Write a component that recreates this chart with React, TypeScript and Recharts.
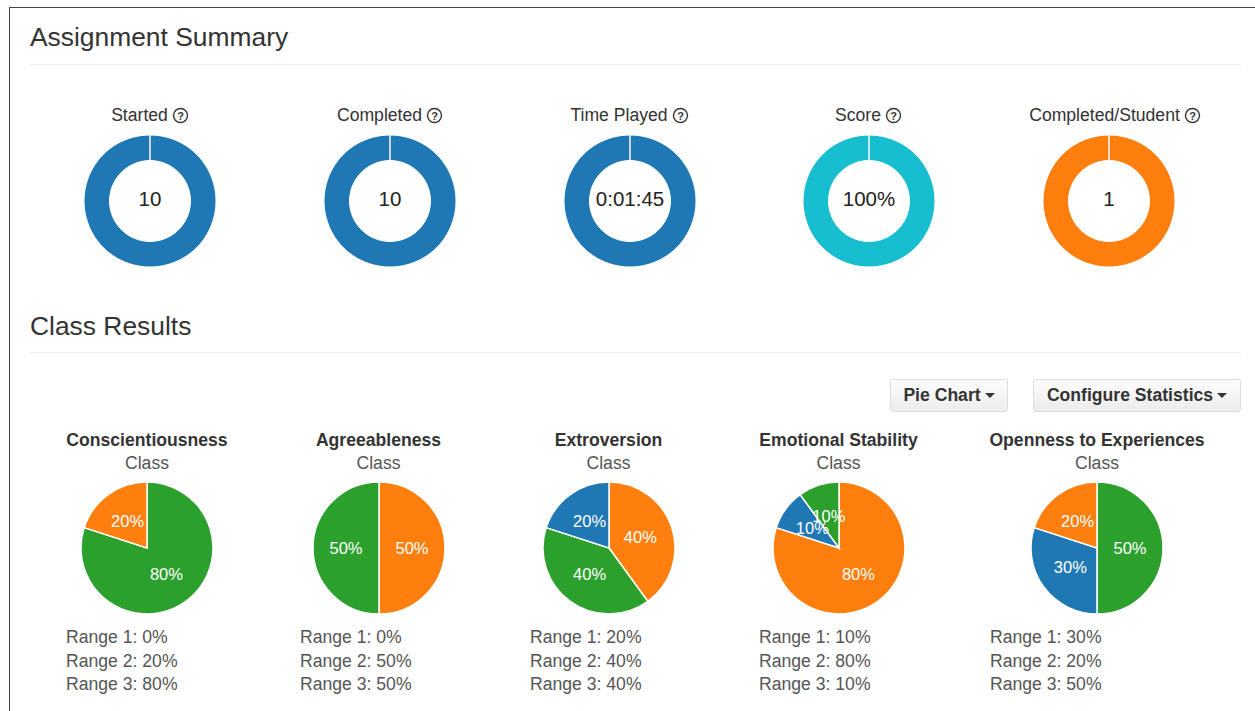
import { Label, Pie, PieChart } from "recharts";

const summaryTitles = ["Started", "Completed", "Time Played", "Score", "Completed/Student"];
const summaryValues = [10, 10, 105, 100, 1];
const summaryLabels = ["10", "10", "0:01:45", "100%", "1"];
const summaryColors = ["#1f77b4", "#1f77b4", "#1f77b4", "#17becf", "#ff7f0e"];
const summaryCenters = [150, 390, 629.5, 869, 1108.5];
const summaryTitleCenters = [150, 390, 629.5, 868.5, 1115];

const traits = [
  "Conscientiousness",
  "Agreeableness",
  "Extroversion",
  "Emotional Stability",
  "Openness to Experiences",
];
const range1 = [0, 0, 20, 10, 30];
const range2 = [20, 50, 40, 80, 20];
const range3 = [80, 50, 40, 10, 50];
const rangeColors = ["#1f77b4", "#ff7f0e", "#2ca02c"];
// largest slice goes first, ties keep the order seen in the picture
const sliceOrder = [
  [2, 1, 0],
  [1, 2, 0],
  [1, 2, 0],
  [1, 0, 2],
  [2, 0, 1],
];
const traitCenters = [147.5, 379, 609, 839, 1097.5];
const traitTextLeft = [66, 300, 530, 759, 990];

const FONT = "'Liberation Sans', Arial, sans-serif";
const SIZE = 140;
const TEXT_SIZE = 17.6;

const abs = (left: number, top: number, extra: object = {}) => ({
  position: "absolute" as const,
  left,
  top,
  whiteSpace: "nowrap" as const,
  ...extra,
});

const HelpIcon = () => (
  <svg width={17} height={17} style={{ marginLeft: 4, verticalAlign: -2.5 }}>
    <circle cx={8.5} cy={8.5} r={7} fill="none" stroke="#333" strokeWidth={1.4} />
    <text x={8.5} y={12.5} textAnchor="middle" fontSize={11} fontWeight="bold" fill="#333" fontFamily={FONT}>
      ?
    </text>
  </svg>
);

const Donut = ({ i }: { i: number }) => (
  <PieChart
    width={SIZE}
    height={SIZE}
    margin={{ top: 0, right: 0, bottom: 0, left: 0 }}
    style={abs(summaryCenters[i] - SIZE / 2, 200.5 - SIZE / 2)}
  >
    <Pie
      dataKey="value"
      data={[{ name: summaryTitles[i], value: summaryValues[i] }]}
      isAnimationActive={false}
      cx="50%"
      cy="50%"
      innerRadius={40.5}
      outerRadius={66}
      startAngle={90}
      endAngle={-270}
      fill={summaryColors[i]}
      stroke="#fff"
      strokeWidth={1}
    >
      <Label
        value={summaryLabels[i]}
        position="center"
        fill="#222"
        fontSize={20.5}
        fontFamily={FONT}
        dy={-2.5}
      />
    </Pie>
  </PieChart>
);

const sliceLabel = ({ cx, cy, midAngle, value }: any) => {
  const rad = (midAngle * Math.PI) / 180;
  return (
    <text
      x={cx + 33 * Math.cos(rad)}
      y={cy - 33 * Math.sin(rad) - 0.5}
      fill="#fff"
      fontSize={16.5}
      fontFamily={FONT}
      textAnchor="middle"
      dominantBaseline="central"
    >
      {value}%
    </text>
  );
};

const TraitPie = ({ i }: { i: number }) => {
  const values = [range1[i], range2[i], range3[i]];
  const data = sliceOrder[i]
    .filter((r) => values[r] > 0)
    .map((r) => ({ name: `Range ${r + 1}`, value: values[r], fill: rangeColors[r] }));
  return (
    <PieChart
      width={SIZE}
      height={SIZE}
      margin={{ top: 0, right: 0, bottom: 0, left: 0 }}
      style={abs(traitCenters[i] - SIZE / 2 - 0.25, 547.5 - SIZE / 2)}
    >
      <Pie
        dataKey="value"
        data={data}
        isAnimationActive={false}
        cx="50%"
        cy="50%"
        outerRadius={66}
        startAngle={90}
        endAngle={-270}
        stroke="#fff"
        strokeWidth={1.5}
        label={sliceLabel}
        labelLine={false}
      />
    </PieChart>
  );
};

const Button = ({ left, width, text }: { left: number; width: number; text: string }) => (
  <div
    style={abs(left, 378.5, {
      width,
      height: 33,
      boxSizing: "border-box",
      border: "1px solid #ddd",
      borderRadius: 3,
      background: "linear-gradient(#fdfdfd, #ececec)",
      textAlign: "center",
      lineHeight: "31px",
      fontSize: TEXT_SIZE,
      fontWeight: "bold",
      color: "#333",
    })}
  >
    {text}
    <span
      style={{
        display: "inline-block",
        marginLeft: 4,
        verticalAlign: 3,
        borderLeft: "5px solid transparent",
        borderRight: "5px solid transparent",
        borderTop: "5px solid #333",
      }}
    />
  </div>
);

export default function App() {
  return (
    <div
      style={{
        position: "fixed",
        left: 0,
        top: 0,
        width: 1255,
        height: 711,
        overflow: "hidden",
        background: "#fff",
        fontFamily: FONT,
        color: "#333",
      }}
    >
      <div style={abs(9, 7, { width: 1246, height: 704, borderTop: "1.5px solid #444", borderLeft: "1.5px solid #444" })} />

      <div style={abs(30, 21, { fontSize: 26.4, lineHeight: "32px" })}>Assignment Summary</div>
      <div style={abs(30, 64, { width: 1211, height: 1, background: "#eee" })} />

      {summaryTitles.map((t, i) => (
        <div
          key={t}
          style={abs(summaryTitleCenters[i] - 120, 104, { width: 240, textAlign: "center", fontSize: TEXT_SIZE, lineHeight: "22px" })}
        >
          {t}
          <HelpIcon />
        </div>
      ))}
      {summaryTitles.map((t, i) => (
        <Donut key={t} i={i} />
      ))}

      <div style={abs(30, 310, { fontSize: 26.4, lineHeight: "32px" })}>Class Results</div>
      <div style={abs(30, 352, { width: 1211, height: 1, background: "#eee" })} />

      <Button left={890} width={118} text="Pie Chart" />
      <Button left={1033} width={208} text="Configure Statistics" />

      {traits.map((t, i) => (
        <div key={t}>
          <div
            style={abs(traitCenters[i] - 120.5, 428.5, {
              width: 240,
              textAlign: "center",
              fontSize: TEXT_SIZE,
              fontWeight: "bold",
              lineHeight: "22px",
            })}
          >
            {t}
          </div>
          <div
            style={abs(traitCenters[i] - 120.5, 452, {
              width: 240,
              textAlign: "center",
              fontSize: TEXT_SIZE,
              color: "#555",
              lineHeight: "22px",
            })}
          >
            Class
          </div>
          <TraitPie i={i} />
          {[range1[i], range2[i], range3[i]].map((v, r) => (
            <div
              key={r}
              style={abs(traitTextLeft[i], 626.3 + r * 23.5, { fontSize: TEXT_SIZE, color: "#555", lineHeight: "22px" })}
            >
              Range {r + 1}: {v}%
            </div>
          ))}
        </div>
      ))}
    </div>
  );
}
